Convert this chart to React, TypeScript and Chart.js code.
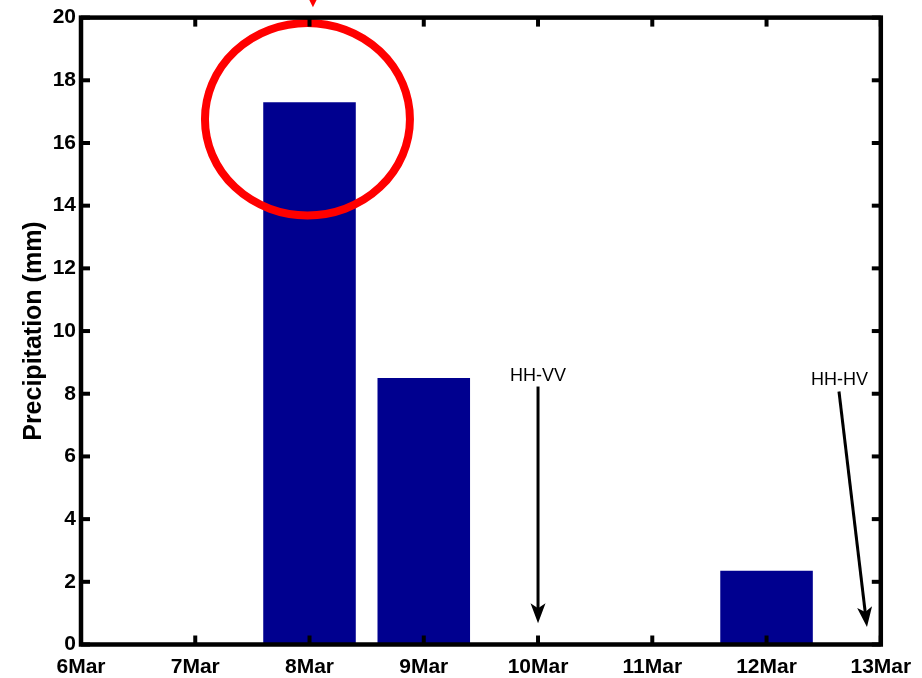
import React, { useEffect, useRef } from 'react';
import { Chart, registerables } from 'chart.js';

Chart.register(...registerables);

// ---- data ----
const dates = ['6Mar', '7Mar', '8Mar', '9Mar', '10Mar', '11Mar', '12Mar', '13Mar'];
const precipitation = [0, 0, 17.3, 8.5, 0, 0, 2.35, 0];
const yMin = 0;
const yMax = 20;
const yStep = 2;
const yTitle = 'Precipitation (mm)';

// annotations in data units (x = category index, y = mm)
const highlight = { x: 1.982, y: 16.76, rx: 0.897, ry: 3.07 };
const arrowLabels = ['HH-VV', 'HH-HV'];
const arrowLabelX = [4, 6.638];
const arrowLabelY = [8.58, 8.44];
const arrowFromX = [4, 6.634];
const arrowFromY = [8.23, 8.07];
const arrowToX = [4, 6.879];
const arrowToY = [0.68, 0.56];
const topArrow = { x: 2.03, y: 20.33 };

const FONT = '"Liberation Sans", Arial, Helvetica, sans-serif';

function arrowHead(ctx: CanvasRenderingContext2D, x0: number, y0: number, x1: number, y1: number, len: number, half: number, notch: number) {
  const dx = x1 - x0;
  const dy = y1 - y0;
  const d = Math.hypot(dx, dy) || 1;
  const ux = dx / d;
  const uy = dy / d;
  const px = -uy;
  const py = ux;
  ctx.beginPath();
  ctx.moveTo(x1, y1);
  ctx.lineTo(x1 - ux * len + px * half, y1 - uy * len + py * half);
  ctx.lineTo(x1 - ux * (len - notch), y1 - uy * (len - notch));
  ctx.lineTo(x1 - ux * len - px * half, y1 - uy * len - py * half);
  ctx.closePath();
  ctx.fill();
}

const framePlugin = {
  id: 'frameAndNotes',
  afterDatasetsDraw(chart: any) {
    const { ctx, chartArea: a, scales } = chart;
    const x = scales.x;
    const y = scales.y;
    ctx.save();

    // red highlight ellipse
    const cx = x.getPixelForValue(highlight.x);
    const cy = y.getPixelForValue(highlight.y);
    const rx = Math.abs(x.getPixelForValue(highlight.x + highlight.rx) - cx);
    const ry = Math.abs(y.getPixelForValue(highlight.y + highlight.ry) - cy);
    ctx.strokeStyle = '#ff0000';
    ctx.lineWidth = 8;
    ctx.beginPath();
    ctx.ellipse(cx, cy, rx, ry, 0, 0, Math.PI * 2);
    ctx.stroke();

    // red arrow at top (mostly off the canvas)
    const tx = x.getPixelForValue(topArrow.x);
    const ty = y.getPixelForValue(topArrow.y);
    ctx.fillStyle = '#ff0000';
    ctx.beginPath();
    ctx.moveTo(tx, ty);
    ctx.lineTo(tx - 9, ty - 18);
    ctx.lineTo(tx + 9, ty - 18);
    ctx.closePath();
    ctx.fill();

    // box
    ctx.strokeStyle = '#000';
    ctx.lineWidth = 4.5;
    ctx.strokeRect(a.left, a.top, a.right - a.left, a.bottom - a.top);

    // inward ticks on all sides
    ctx.lineWidth = 4;
    const tl = 9;
    const seg = (x0: number, y0: number, x1: number, y1: number) => {
      ctx.beginPath();
      ctx.moveTo(x0, y0);
      ctx.lineTo(x1, y1);
      ctx.stroke();
    };
    x.ticks.forEach((_: any, i: number) => {
      const px = x.getPixelForTick(i);
      seg(px, a.bottom, px, a.bottom - tl);
      seg(px, a.top, px, a.top + tl);
    });
    y.ticks.forEach((t: any) => {
      const py = y.getPixelForValue(t.value);
      seg(a.left, py, a.left + tl, py);
      seg(a.right, py, a.right - tl, py);
    });

    // black arrows with labels
    ctx.fillStyle = '#000';
    ctx.strokeStyle = '#000';
    ctx.font = `18px ${FONT}`;
    ctx.textAlign = 'center';
    ctx.textBaseline = 'middle';
    for (let i = 0; i < arrowLabels.length; i++) {
      const x0 = x.getPixelForValue(arrowFromX[i]);
      const y0 = y.getPixelForValue(arrowFromY[i]);
      const x1 = x.getPixelForValue(arrowToX[i]);
      const y1 = y.getPixelForValue(arrowToY[i]);
      const d = Math.hypot(x1 - x0, y1 - y0);
      const ex = x1 - ((x1 - x0) / d) * 14;
      const ey = y1 - ((y1 - y0) / d) * 14;
      ctx.lineWidth = 3;
      seg(x0, y0, ex, ey);
      arrowHead(ctx, x0, y0, x1, y1, 20, 7.5, 5);
      ctx.fillText(arrowLabels[i], x.getPixelForValue(arrowLabelX[i]), y.getPixelForValue(arrowLabelY[i]));
    }

    ctx.restore();
  },
};

export default function App() {
  const ref = useRef<HTMLCanvasElement | null>(null);

  useEffect(() => {
    if (!ref.current) return;
    const chart = new Chart(ref.current, {
      type: 'bar',
      data: {
        labels: dates,
        datasets: [
          {
            label: 'Precipitation',
            data: precipitation,
            backgroundColor: '#00008f',
            borderWidth: 0,
            barPercentage: 0.81,
            categoryPercentage: 1,
          },
        ],
      },
      options: {
        animation: false,
        responsive: false,
        maintainAspectRatio: false,
        layout: { padding: { left: 0, top: 16.5, right: 41.2, bottom: 0 } },
        plugins: {
          legend: { display: false },
          tooltip: { enabled: false },
          title: { display: false },
        },
        scales: {
          x: {
            type: 'category',
            offset: false,
            grid: { display: false, drawTicks: false, offset: false },
            border: { display: false },
            ticks: {
              color: '#000',
              font: { family: FONT, size: 21, weight: 'bold' },
              padding: 10,
              maxRotation: 0,
              autoSkip: false,
            },
            afterFit: (s: any) => {
              s.height = 33.5;
            },
          },
          y: {
            type: 'linear',
            min: yMin,
            max: yMax,
            grid: { display: false, drawTicks: false },
            border: { display: false },
            ticks: {
              stepSize: yStep,
              color: '#000',
              font: { family: FONT, size: 21, weight: 'bold' },
              padding: 5,
            },
            title: {
              display: true,
              text: yTitle,
              color: '#000',
              font: { family: FONT, size: 25, weight: 'bold' },
              padding: { top: 19, bottom: 0 },
            },
            afterFit: (s: any) => {
              s.width = 81;
            },
          },
        },
      } as any,
      plugins: [framePlugin],
    });
    return () => chart.destroy();
  }, []);

  return (
    <div style={{ position: 'fixed', left: 0, top: 0, width: 922, height: 678, background: '#fff' }}>
      <canvas ref={ref} width={922} height={678} style={{ display: 'block', width: 922, height: 678 }} />
    </div>
  );
}
